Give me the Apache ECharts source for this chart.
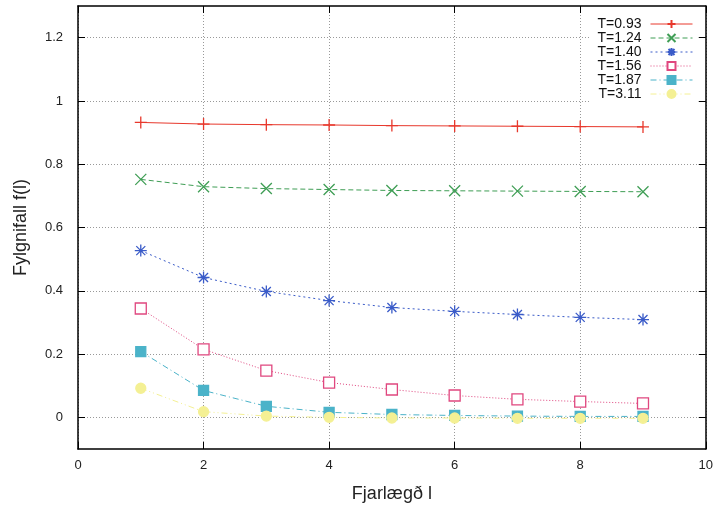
<!DOCTYPE html>
<html>
<head>
<meta charset="utf-8">
<script src="https://cdn.jsdelivr.net/npm/echarts@6/dist/echarts.min.js"></script>
<style>
  html, body { margin: 0; padding: 0; background: #fff; }
  #chart { width: 716px; height: 508px; }
</style>
</head>
<body>
<div id="chart"></div>
<script>
// distance l
const distances = [1, 2, 3, 4, 5, 6, 7, 8, 9]
const names = ['T=0.93', 'T=1.24', 'T=1.40', 'T=1.56', 'T=1.87', 'T=3.11']
const t093 = [0.932, 0.927, 0.925, 0.924, 0.922, 0.921, 0.920, 0.919, 0.918]
const t124 = [0.752, 0.729, 0.723, 0.720, 0.717, 0.716, 0.715, 0.714, 0.713]
const t140 = [0.527, 0.442, 0.398, 0.369, 0.347, 0.335, 0.325, 0.316, 0.309]
const t156 = [0.344, 0.215, 0.148, 0.110, 0.088, 0.069, 0.057, 0.050, 0.044]
const t187 = [0.208, 0.085, 0.035, 0.016, 0.009, 0.006, 0.004, 0.003, 0.003]
const t311 = [0.092, 0.018, 0.004, 0.000, -0.002, -0.002, -0.003, -0.003, -0.003]
const yTicks = [0, 0.2, 0.4, 0.6, 0.8, 1, 1.2]

const font = 'Liberation Sans, Arial, sans-serif'

const plusPath = 'path://M0,-1L0,1M-1,0L1,0'
const crossPath = 'path://M-1,-1L1,1M-1,1L1,-1'
const starPath = 'path://M0,-1L0,1M-1,0L1,0M-0.75,-0.75L0.75,0.75M-0.75,0.75L0.75,-0.75'

const mk = (name, data, color, dash, symbol, size, fill) => ({
  name: name,
  type: 'line',
  data: distances.map((x, i) => [x, data[i]]),
  symbol: symbol,
  symbolSize: size,
  showSymbol: true,
  lineStyle: { color: color, width: 1, type: dash },
  itemStyle: { color: fill, borderColor: color, borderWidth: 1.3 },
  emphasis: { disabled: true },
  z: 3
})

const series = [
  mk(names[0], t093, '#e8382c', 'solid', plusPath, 12, '#e8382c'),
  mk(names[1], t124, '#3f9e55', [5, 3], crossPath, 11, '#3f9e55'),
  mk(names[2], t140, '#3a5bc8', [2, 3], starPath, 12, '#3a5bc8'),
  mk(names[3], t156, '#e0477f', [1, 2], 'rect', 11, '#fff'),
  mk(names[4], t187, '#4bb3c9', [6, 3, 1, 3], 'rect', 10, '#4bb3c9'),
  mk(names[5], t311, '#f4f094', [6, 3, 1, 3, 1, 3], 'circle', 10, '#f4f094')
]

const chart = echarts.init(document.getElementById('chart'))
chart.setOption({
  animation: false,
  backgroundColor: '#fff',
  grid: { left: 78, right: 8, top: 6, bottom: 58 },
  legend: {
    orient: 'vertical',
    right: 19,
    top: 14,
    align: 'right',
    itemWidth: 42,
    itemHeight: 10,
    itemGap: 0,
    backgroundColor: '#fff',
    padding: [3, 4, 3, 8],
    lineStyle: { width: 1 },
    textStyle: { fontFamily: font, fontSize: 14, lineHeight: 14, color: '#111', padding: [0, 4, 0, 0] },
    data: names
  },
  xAxis: [
    {
      type: 'value', min: 0, max: 10, interval: 2,
      name: 'Fjarlægð l', nameLocation: 'middle', nameGap: 36,
      nameTextStyle: { fontFamily: font, fontSize: 18, color: '#222' },
      axisLine: { show: true, onZero: false, lineStyle: { color: '#000', width: 1.5 } },
      axisTick: { show: true, inside: true, length: 7, lineStyle: { color: '#000' } },
      axisLabel: { fontFamily: font, fontSize: 13, color: '#222', margin: 10 },
      splitLine: { show: true, lineStyle: { color: '#999', type: [1, 2], width: 1 } }
    },
    {
      type: 'value', min: 0, max: 10, interval: 2, position: 'top',
      axisLine: { show: true, onZero: false, lineStyle: { color: '#000', width: 1.5 } },
      axisTick: { show: true, inside: true, length: 7, lineStyle: { color: '#000' } },
      axisLabel: { show: false },
      splitLine: { show: false }
    }
  ],
  yAxis: [
    {
      type: 'value', min: -0.1, max: 1.3,
      name: 'Fylgnifall f(l)', nameLocation: 'middle', nameGap: 48,
      nameTextStyle: { fontFamily: font, fontSize: 18, color: '#222' },
      axisLine: { show: true, onZero: false, lineStyle: { color: '#000', width: 1.5 } },
      axisTick: { show: true, inside: true, length: 7, customValues: yTicks, lineStyle: { color: '#000' } },
      axisLabel: { fontFamily: font, fontSize: 13, color: '#222', margin: 15, customValues: yTicks },
      splitLine: { show: true, lineStyle: { color: '#999', type: [1, 2], width: 1 } }
    },
    {
      type: 'value', min: -0.1, max: 1.3, position: 'right',
      axisLine: { show: true, onZero: false, lineStyle: { color: '#000', width: 1.5 } },
      axisTick: { show: true, inside: true, length: 7, customValues: yTicks, lineStyle: { color: '#000' } },
      axisLabel: { show: false, customValues: yTicks },
      splitLine: { show: false }
    }
  ],
  series: series
})
</script>
</body>
</html>
